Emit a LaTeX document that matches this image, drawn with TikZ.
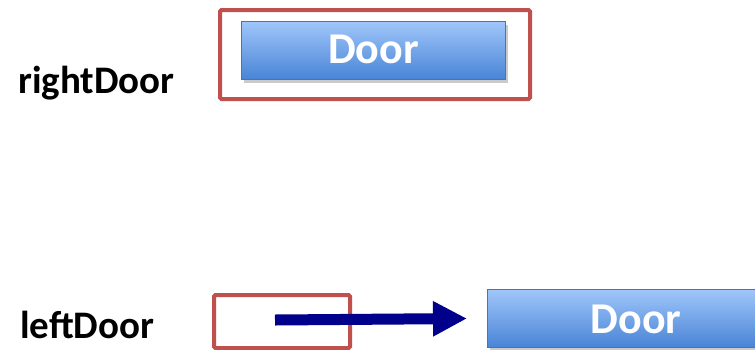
\documentclass[tikz,border=0pt]{standalone}
\usepackage{fontspec}
\setmainfont{Carlito}
\usetikzlibrary{shadows,arrows.meta}
\definecolor{boxred}{RGB}{192,80,77}
\definecolor{doortop}{RGB}{160,198,250}
\definecolor{doorbot}{RGB}{72,132,214}
\definecolor{doorline}{RGB}{70,115,190}
\definecolor{arrowblue}{RGB}{0,0,139}
\tikzset{
  redbox/.style={draw=boxred, line width=4pt, rounded corners=1.5pt},
  doorbox/.style={draw=doorline, line width=1pt, top color=doortop, bottom color=doorbot,
    drop shadow={shadow xshift=2pt, shadow yshift=-3pt, opacity=0.35, fill=black!60}},
  doortext/.style={text=white, font=\bfseries\fontsize{44}{44}\selectfont},
  labeltext/.style={text=black, font=\bfseries\fontsize{39}{39}\selectfont, anchor=base west, inner sep=0pt}
}
\begin{document}
\begin{tikzpicture}[x=1pt,y=-1pt]
\useasboundingbox (0,0) rectangle (755,349);
\begin{scope}
\clip (0,0) rectangle (755,349);
% top
\node[labeltext] (rlabel) at (18,93) {rightDoor};
\node[redbox, minimum width=310pt, minimum height=89pt, anchor=north west] (rbox) at (218,8) {};
\node[doorbox, minimum width=264pt, minimum height=58pt, anchor=north west] (rdoor) at (241,21) {};
\node[doortext] (rdoortext) at ([yshift=1pt]rdoor.center) {Door};
% bottom
\node[labeltext] (llabel) at (20,338) {leftDoor};
\node[redbox, minimum width=136pt, minimum height=53pt, anchor=north west] (lbox) at (212,293) {};
\node[doorbox, minimum width=298pt, minimum height=58pt, anchor=north west] (ldoor) at (487,289) {};
\node[doortext] (ldoortext) at (636,319) {Door};
\coordinate (astart) at (275,320);
\draw[arrowblue, line width=11pt, -{Triangle[length=34pt,width=33pt]}] (astart) -- ([xshift=-20pt]ldoor.west);
\end{scope}
\end{tikzpicture}
\end{document}
